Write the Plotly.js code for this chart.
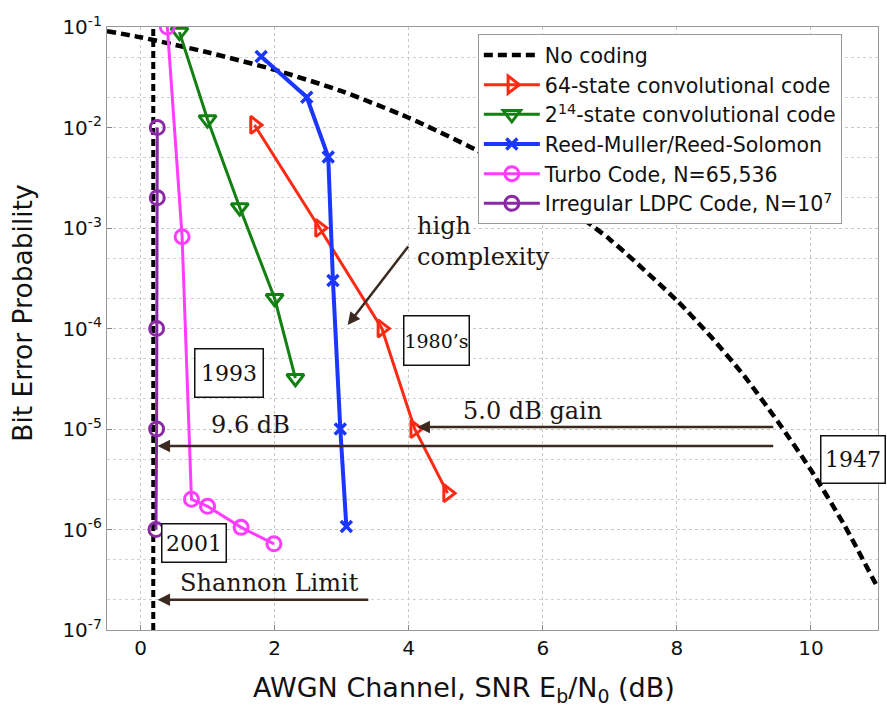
<!DOCTYPE html>
<html>
<head>
<meta charset="utf-8">
<script src="https://cdn.plot.ly/plotly-3.0.1.min.js"></script>
<style>html,body{margin:0;padding:0;background:#fff;}#chart{width:887px;height:708px;}</style>
</head>
<body>
<div id="chart"></div>
<script>
// ---- Data ----
const noCodingX = [-0.5, 0, 1, 2, 3, 4, 5, 6, 7, 8, 8.5, 9, 9.5, 10, 10.5, 11];
const noCodingY = [0.091, 0.079, 0.056, 0.0375, 0.023, 0.0125, 0.006, 0.0024, 0.00077, 0.00019, 8.4e-5, 3.4e-5, 1.2e-5, 3.9e-6, 1.1e-6, 2.6e-7];

const conv64X = [1.7, 2.67, 3.6, 4.09, 4.58];
const conv64Y = [0.0106, 1.0e-3, 1.0e-4, 1.0e-5, 2.3e-6];

const conv214X = [0.58, 1.0, 1.48, 2.0, 2.31];
const conv214Y = [0.089, 0.012, 1.6e-3, 2.0e-4, 3.2e-5];

const rmrsX = [1.8, 2.48, 2.8, 2.87, 2.98, 3.07];
const rmrsY = [0.051, 0.02, 5.1e-3, 3.0e-4, 1.0e-5, 1.07e-6];

const turboX = [0.40, 0.62, 0.76, 1.0, 1.5, 1.99];
const turboY = [0.1, 8.2e-4, 2.0e-6, 1.7e-6, 1.05e-6, 7.2e-7];

const ldpcX = [0.25, 0.25, 0.24, 0.24, 0.23];
const ldpcY = [1e-2, 2e-3, 1e-4, 1e-5, 1e-6];

const shannonX = [0.19, 0.19];
const shannonY = [1e-7, 1e-1];

const seriesNames = [
  'No coding',
  '64-state convolutional code',
  '2<sup>14</sup>-state convolutional code',
  'Reed-Muller/Reed-Solomon',
  'Turbo Code, N=65,536',
  'Irregular LDPC Code, N=10<sup>7</sup>'
];

const yTickVals = [1e-7, 1e-6, 1e-5, 1e-4, 1e-3, 1e-2, 1e-1];
const yTickText = ['10<sup>-7</sup>','10<sup>-6</sup>','10<sup>-5</sup>','10<sup>-4</sup>','10<sup>-3</sup>','10<sup>-2</sup>','10<sup>-1</sup>'];
const xTickVals = [0, 2, 4, 6, 8, 10];

const xTitle = 'AWGN Channel, SNR E<sub>b</sub>/N<sub>0</sub> (dB)';
const yTitle = 'Bit Error Probability';

// ---- Styles ----
const RED = '#ff2a14', GREEN = '#128012', BLUE = '#1a36ff', MAGENTA = '#ff3cff', PURPLE = '#8a2aa6';
const BROWN = '#3c2a20';
const serif = 'DejaVu Serif, serif';
const sans = 'DejaVu Sans, sans-serif';

const traces = [
  {x: shannonX, y: shannonY, mode: 'lines', showlegend: false, hoverinfo: 'skip',
   line: {color: '#000', width: 4, dash: '7px,4px'}},
  {x: noCodingX, y: noCodingY, mode: 'lines', name: seriesNames[0],
   line: {color: '#000', width: 4.5, dash: '9px,5px', shape: 'spline', smoothing: 0.6}},
  {x: conv64X, y: conv64Y, mode: 'lines+markers', name: seriesNames[1],
   line: {color: RED, width: 3}, marker: {symbol: 'triangle-right-open', size: 15, color: RED, line: {width: 3, color: RED}}},
  {x: conv214X, y: conv214Y, mode: 'lines+markers', name: seriesNames[2],
   line: {color: GREEN, width: 3}, marker: {symbol: 'triangle-down-open', size: 15, color: GREEN, line: {width: 3, color: GREEN}}},
  {x: rmrsX, y: rmrsY, mode: 'lines+markers', name: seriesNames[3],
   line: {color: BLUE, width: 4}, marker: {symbol: 'x-thin-open', size: 11, color: BLUE, line: {width: 3.5, color: BLUE}}},
  {x: turboX, y: turboY, mode: 'lines+markers', name: seriesNames[4],
   line: {color: MAGENTA, width: 3}, marker: {symbol: 'circle-open', size: 14, color: MAGENTA, line: {width: 3, color: MAGENTA}}},
  {x: ldpcX, y: ldpcY, mode: 'lines+markers', name: seriesNames[5],
   line: {color: PURPLE, width: 3}, marker: {symbol: 'circle-open', size: 14, color: PURPLE, line: {width: 3, color: PURPLE}}}
];

function box(text, x, ylog, w, h, fs) {
  return {x: x, y: ylog, xref: 'x', yref: 'y', text: text, showarrow: false,
    font: {family: serif, size: fs || 22, color: '#111'},
    bordercolor: '#111', borderwidth: 1.5, borderpad: 0, bgcolor: '#fff',
    width: w - 3, height: h - 3, align: 'center', valign: 'middle'};
}
function label(text, x, ylog, align) {
  return {x: x, y: ylog, xref: 'x', yref: 'y', text: text, showarrow: false,
    font: {family: serif, size: 24, color: '#1e1612'}, align: align || 'center',
    xanchor: align === 'left' ? 'left' : 'center'};
}
function arrow(x0, y0, x1, y1) {
  return {x: x1, y: y1, ax: x0, ay: y0, xref: 'x', yref: 'y', axref: 'x', ayref: 'y',
    text: '', showarrow: true, arrowhead: 2, arrowsize: 1, arrowwidth: 2.5, arrowcolor: BROWN};
}

const layout = {
  width: 887, height: 708,
  margin: {l: 107, r: 9, t: 27, b: 78},
  paper_bgcolor: '#fff', plot_bgcolor: '#fff',
  showlegend: true,
  font: {family: sans, color: '#111'},
  xaxis: {
    range: [-0.5, 11], tickvals: xTickVals, ticks: 'inside', ticklen: 5, tickcolor: '#888',
    showline: true, mirror: true, linecolor: '#999', linewidth: 1.2,
    showgrid: true, gridcolor: '#c8c8c8', griddash: 'dot', gridwidth: 1, zeroline: false,
    tickfont: {family: sans, size: 20, color: '#111'}
  },
  yaxis: {
    type: 'log', range: [-7, -1], tickvals: yTickVals, ticktext: yTickText,
    ticks: 'inside', ticklen: 5, tickcolor: '#888',
    showline: true, mirror: true, linecolor: '#999', linewidth: 1.2,
    showgrid: true, gridcolor: '#c8c8c8', griddash: 'dot', gridwidth: 1, zeroline: false,
    minor: {showgrid: true, gridcolor: '#d2d2d2', griddash: 'dot', gridwidth: 1, ticks: ''},
    tickfont: {family: sans, size: 20, color: '#111'}
  },
  legend: {
    x: 0.481, y: 0.988, xanchor: 'left', yanchor: 'top',
    bgcolor: '#fff', bordercolor: '#999', borderwidth: 1,
    font: {family: sans, size: 20.5, color: '#111'},
    itemwidth: 56, tracegroupgap: 0
  },
  shapes: [
    {type: 'circle', xref: 'x', yref: 'y', x0: 1.806, x1: 3.209, y0: -4.244, y1: -3.975,
     line: {color: BROWN, width: 2}}
  ],
  annotations: [
    {text: xTitle, xref: 'paper', yref: 'paper', x: 0.463, y: -0.0995, xanchor: 'center', yanchor: 'middle',
     showarrow: false, font: {family: sans, size: 27, color: '#111'}},
    {text: yTitle, xref: 'paper', yref: 'paper', x: -0.109, y: 0.526, xanchor: 'center', yanchor: 'middle',
     textangle: -90, showarrow: false, font: {family: sans, size: 26.5, color: '#111'}},
    label('high<br>complexity', 4.10, -3.13, 'left'),
    arrow(4.01, -3.169, 3.09, -3.965),
    box('1980\u2019s', 4.41, -4.12, 67, 51, 19),
    box('1993', 1.313, -4.443, 70, 50),
    box('1947', 10.63, -5.303, 66, 49),
    box('2001', 0.791, -6.134, 66, 40),
    box('1948', -0.507, -6.527, 74, 49),
    label('9.6 dB', 1.64, -4.96),
    label('5.0 dB gain', 5.85, -4.82),
    label('Shannon Limit', 1.925, -6.532),
    arrow(9.46, -5.169, 0.254, -5.169),
    arrow(9.46, -4.98, 4.13, -4.98),
    arrow(3.42, -6.70, 0.254, -6.70)
  ]
};

Plotly.newPlot('chart', traces, layout, {displayModeBar: false, staticPlot: true});
</script>
</body>
</html>
